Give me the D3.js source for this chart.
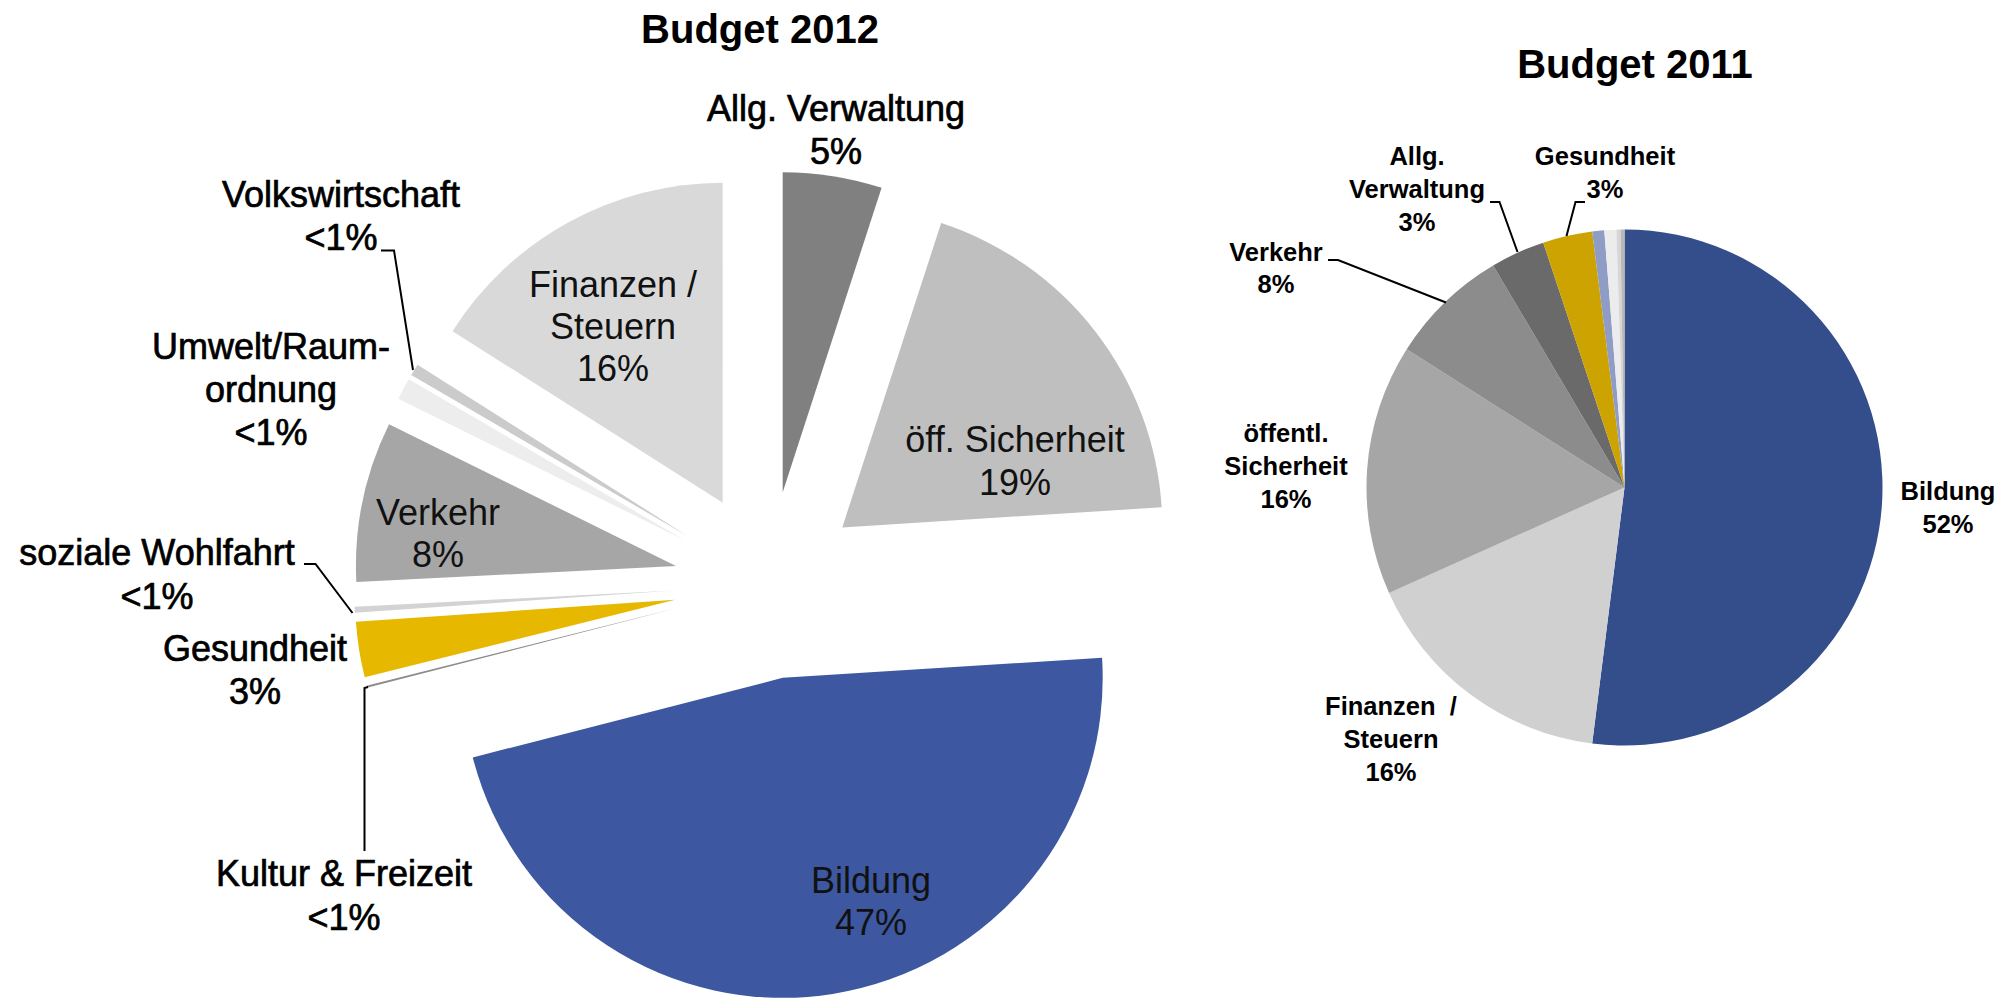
<!DOCTYPE html>
<html>
<head>
<meta charset="utf-8">
<script src="https://cdn.jsdelivr.net/npm/d3@7"></script>
<style>
  html, body { margin: 0; padding: 0; background: #ffffff; }
  svg { display: block; font-family: "Liberation Sans", Arial, sans-serif; }
</style>
</head>
<body>
<svg id="chart" width="2015" height="999"></svg>
<script>
// ---------------- DATA ----------------
const categories2012 = ["Allg. Verwaltung", "öff. Sicherheit", "Bildung", "Kultur & Freizeit", "Gesundheit",
                        "soziale Wohlfahrt", "Verkehr", "Umwelt/Raumordnung", "Volkswirtschaft", "Finanzen / Steuern"];
const values2012 = [5.0, 19.0, 47.0, 0.1, 2.8, 0.3, 8.1, 1.1, 0.6, 16.0];
const pctLabels2012 = ["5%", "19%", "47%", "<1%", "3%", "<1%", "8%", "<1%", "<1%", "16%"];

const categories2011 = ["Bildung", "Finanzen / Steuern", "öffentl. Sicherheit", "Verkehr", "Allg. Verwaltung",
                        "Gesundheit", "Kultur & Freizeit", "soziale Wohlfahrt", "Umwelt/Raumordnung", "Volkswirtschaft"];
const values2011 = [52.0, 16.3, 15.7, 7.5, 3.4, 3.1, 0.75, 0.75, 0.25, 0.25];
const pctLabels2011 = ["52%", "16%", "16%", "8%", "3%", "3%", "", "", "", ""];

const titles = ["Budget 2012", "Budget 2011"];

// ---------------- STYLES / LAYOUT ----------------
const colors2012 = ["#808080", "#bfbfbf", "#3d58a0", "#8c8c8c", "#e6b800",
                    "#d3d3d3", "#a6a6a6", "#ededed", "#cbcbcb", "#d9d9d9"];
const colors2011 = ["#344e8c", "#d0d0d0", "#a6a6a6", "#8c8c8c", "#6a6a6a",
                    "#cca300", "#8f9cc6", "#ececec", "#d6d6d6", "#b8b8b8"];

const pie12 = { cx: 768, cy: 585, r: 320, explode: 94 };
const pie11 = { cx: 1624.5, cy: 487.5, r: 258 };

// label layout: text lines (name parts, then percentage), center x, first-line center y, line height, style
const layout2012 = {
  "Allg. Verwaltung":   { lines: ["Allg. Verwaltung"], x: 836, y: 108, lh: 43, outside: true },
  "öff. Sicherheit":    { lines: ["öff. Sicherheit"], x: 1015, y: 439, lh: 43, outside: false },
  "Bildung":            { lines: ["Bildung"], x: 871, y: 880, lh: 42, outside: false },
  "Kultur & Freizeit":  { lines: ["Kultur & Freizeit"], x: 344, y: 873, lh: 44, outside: true,
                          leader: [[364.5, 851], [364.5, 688], [368, 687]] },
  "Gesundheit":         { lines: ["Gesundheit"], x: 255, y: 648, lh: 43, outside: true },
  "soziale Wohlfahrt":  { lines: ["soziale Wohlfahrt"], x: 157, y: 552, lh: 44, outside: true,
                          leader: [[304, 564], [315.5, 564], [352.5, 613]] },
  "Verkehr":            { lines: ["Verkehr"], x: 438, y: 512, lh: 42, outside: false },
  "Umwelt/Raumordnung": { lines: ["Umwelt/Raum-", "ordnung"], x: 271, y: 346, lh: 43, outside: true },
  "Volkswirtschaft":    { lines: ["Volkswirtschaft"], x: 341, y: 194, lh: 43, outside: true,
                          leader: [[381, 250.5], [394, 250.5], [413, 370]] },
  "Finanzen / Steuern": { lines: ["Finanzen /", "Steuern"], x: 613, y: 284, lh: 42, outside: false }
};

const layout2011 = {
  "Bildung":             { lines: ["Bildung"], x: 1948, y: 491, lh: 33 },
  "Finanzen / Steuern":  { lines: ["Finanzen  /", "Steuern"], x: 1391, y: 706, lh: 33 },
  "öffentl. Sicherheit": { lines: ["öffentl.", "Sicherheit"], x: 1286, y: 433, lh: 33 },
  "Verkehr":             { lines: ["Verkehr"], x: 1276, y: 252, lh: 32,
                           leader: [[1328, 260], [1338, 260], [1446, 302.5]] },
  "Allg. Verwaltung":    { lines: ["Allg.", "Verwaltung"], x: 1417, y: 156, lh: 33,
                           leader: [[1490, 202], [1499.5, 202], [1517.5, 252]] },
  "Gesundheit":          { lines: ["Gesundheit"], x: 1605, y: 156, lh: 33,
                           leader: [[1585, 202], [1575.5, 202], [1566.5, 236]] }
};

// ---------------- DRAW ----------------
const svg = d3.select("#chart");

// Titles
svg.append("text").attr("x", 760).attr("y", 29).attr("dy", "0.35em")
  .attr("text-anchor", "middle").attr("font-size", 40).attr("font-weight", "bold")
  .attr("fill", "#000").text(titles[0]);
svg.append("text").attr("x", 1635).attr("y", 64).attr("dy", "0.35em")
  .attr("text-anchor", "middle").attr("font-size", 40).attr("font-weight", "bold")
  .attr("fill", "#000").text(titles[1]);

// ---- Pie 2012 (exploded) ----
const pieGen = d3.pie().sort(null).startAngle(0).endAngle(2 * Math.PI);
const arcs12 = pieGen(values2012);
const arc12 = d3.arc().innerRadius(0).outerRadius(pie12.r);

const g12 = svg.append("g").attr("transform", `translate(${pie12.cx},${pie12.cy})`);
g12.selectAll("path").data(arcs12).join("path")
  .attr("d", arc12)
  .attr("fill", (d, i) => colors2012[i])
  .attr("transform", d => {
    const mid = (d.startAngle + d.endAngle) / 2;
    return `translate(${pie12.explode * Math.sin(mid)},${-pie12.explode * Math.cos(mid)})`;
  });

// ---- Pie 2011 ----
const arcs11 = pieGen(values2011);
const arc11 = d3.arc().innerRadius(0).outerRadius(pie11.r);
const g11 = svg.append("g").attr("transform", `translate(${pie11.cx},${pie11.cy})`);
g11.selectAll("path").data(arcs11).join("path")
  .attr("d", arc11)
  .attr("fill", (d, i) => colors2011[i]);

// ---- Labels ----
const line = d3.line();
function drawLabels(cats, pcts, layout, opts) {
  cats.forEach((c, i) => {
    const L = layout[c];
    if (!L) return;
    const lines = L.lines.concat(pcts[i] ? [pcts[i]] : []);
    const isOut = opts.outsideFlag ? L.outside : true;
    lines.forEach((t, k) => {
      const txt = svg.append("text")
        .attr("x", L.x).attr("y", L.y + k * L.lh).attr("dy", "0.35em")
        .attr("text-anchor", "middle")
        .attr("xml:space", "preserve")
        .attr("font-size", opts.size)
        .attr("font-weight", opts.bold ? "bold" : "normal")
        .attr("fill", isOut ? "#000" : "#111")
        .text(t);
      if (!opts.bold && isOut) {
        txt.attr("stroke", "#000").attr("stroke-width", 0.7);
      }
    });
    if (L.leader) {
      svg.append("path").attr("d", line(L.leader))
        .attr("fill", "none").attr("stroke", "#000").attr("stroke-width", 2);
    }
  });
}
drawLabels(categories2012, pctLabels2012, layout2012, { outsideFlag: true, size: 36, bold: false });
drawLabels(categories2011, pctLabels2011, layout2011, { outsideFlag: false, size: 25.5, bold: true });
</script>
</body>
</html>
